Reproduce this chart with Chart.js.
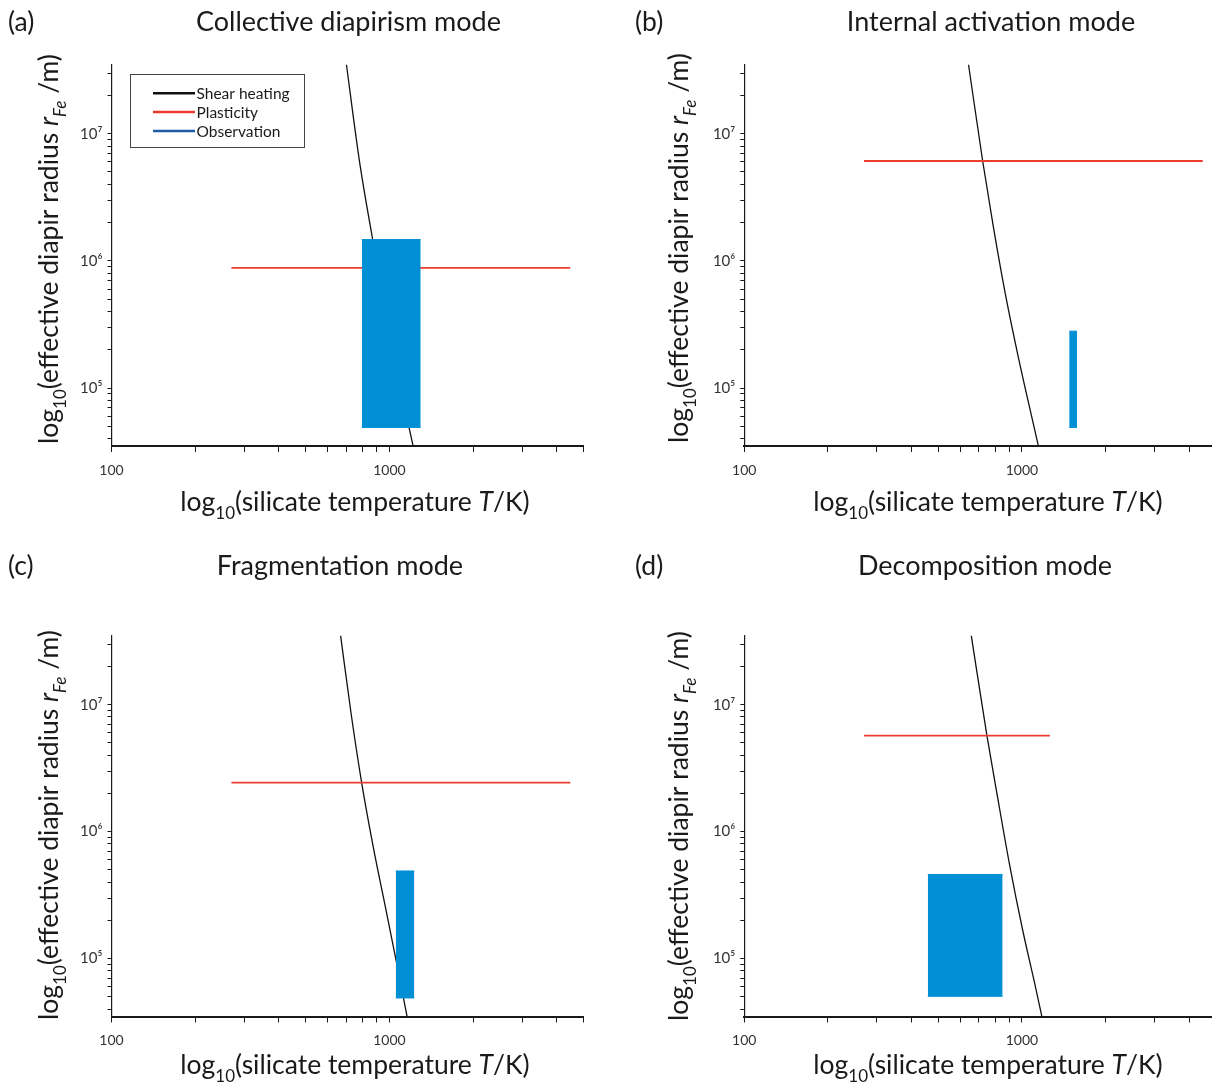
<!DOCTYPE html>
<html>
<head>
<meta charset="utf-8">
<script src="https://cdn.jsdelivr.net/npm/chart.js@4.4.1/dist/chart.umd.min.js"></script>
<style>
html, body { margin: 0; padding: 0; background: #fff; overflow: hidden; }
body { width: 1212px; height: 1087px; position: relative; }
canvas { position: absolute; }
</style>
</head>
<body>
<script>
const panelTags = ['(a)', '(b)', '(c)', '(d)'];
const panelTitles = ['Collective diapirism mode', 'Internal activation mode', 'Fragmentation mode', 'Decomposition mode'];
const xTickLabels = [100, 1000];
const yTickPowers = [5, 6, 7];
const legendLabels = ['Shear heating', 'Plasticity', 'Observation'];

// shear heating curve (T in K, r in m), one list per panel
const shearTemp = [
    [700, 779, 870, 1001, 1175, 1220],
    [642, 722, 789, 871, 976, 1092, 1150],
    [667, 728, 794, 874, 977, 1061, 1160],
    [657, 748, 817, 901, 1006, 1111, 1183]
];
const shearRadius = [
    [3.5e7, 6.17e6, 1.47e6, 2.68e5, 4.93e4, 3.4e4],
    [3.5e7, 6.1e6, 1.85e6, 5.52e5, 1.65e5, 5.57e4, 3.4e4],
    [3.5e7, 8.44e6, 2.43e6, 7.57e5, 2.27e5, 9.2e4, 3.4e4],
    [3.5e7, 5.7e6, 1.87e6, 5.61e5, 1.68e5, 6.41e4, 3.4e4]
];

// plasticity limit
const plastTemp = [[270, 4470], [270, 4480], [270, 4470], [270, 1260]];
const plastRadius = [8.8e5, 6.1e6, 2.43e6, 5.7e6];

// observed range: [Tmin, Tmax], [rmin, rmax]
const obsTemp = [[795, 1295], [1480, 1580], [1053, 1228], [458, 852]];
const obsRadius = [[4.9e4, 1.47e6], [4.9e4, 2.8e5], [4.9e4, 4.9e5], [5.05e4, 4.6e5]];

const FONT = 'Lato, "Open Sans", sans-serif';
const SUP = {'0': '⁰', '1': '¹', '2': '²', '3': '³', '4': '⁴', '5': '⁵', '6': '⁶', '7': '⁷', '8': '⁸', '9': '⁹'};
const BLUE = '#008fd5';
const RED = '#ee3b30';

// page layout of the four panels (page pixels)
const panels = [
    {left: 0, top: 0, w: 606, h: 543, area: [111.5, 64.5, 583.8, 446],
     tagX: 8, titleX: 348.5, titleY: 31, xTitleX: 355, xTitleY: 511, yTitleX: 58, yTitleY: 249},
    {left: 606, top: 0, w: 620, h: 543, area: [744.3, 64.5, 1216.6, 446],
     tagX: 635, titleX: 991, titleY: 31, xTitleX: 988, xTitleY: 511, yTitleX: 688, yTitleY: 248},
    {left: 0, top: 543, w: 606, h: 544, area: [111.5, 635.6, 583.8, 1016.5],
     tagX: 8, titleX: 340, titleY: 575, xTitleX: 355, xTitleY: 1074, yTitleX: 58, yTitleY: 825},
    {left: 606, top: 543, w: 620, h: 544, area: [744.3, 635.6, 1216.6, 1016.5],
     tagX: 635, titleX: 985, titleY: 575, xTitleX: 988, xTitleY: 1074, yTitleX: 688, yTitleY: 826}
];

const xTitleRuns = [{t: 'log'}, {t: '10', sub: true}, {t: '(silicate temperature '}, {t: 'T', it: true}, {t: '/K)'}];
const yTitleRuns = [{t: 'log'}, {t: '10', sub: true}, {t: '(effective diapir radius '}, {t: 'r', it: true}, {t: 'Fe', sub: true, it: true}, {t: ' /m)'}];

const isNice = v => {
    const m = v / Math.pow(10, Math.floor(Math.log10(v) + 1e-9));
    return Math.abs(m - Math.round(m)) < 1e-6;
};

function drawRich(ctx, runs, x, y, size) {
    const fontFor = r => (r.it ? 'italic ' : '') + (r.sub ? Math.round(size * 0.65) : size) + 'px ' + FONT;
    let total = 0;
    const widths = runs.map(r => {
        ctx.font = fontFor(r);
        const w = ctx.measureText(r.t).width;
        total += w;
        return w;
    });
    let cx = x - total / 2;
    runs.forEach((r, k) => {
        ctx.font = fontFor(r);
        ctx.fillText(r.t, cx, y + (r.sub ? size * 0.32 : 0));
        cx += widths[k];
    });
}

function drawLegend(ctx) {
    ctx.strokeStyle = '#444';
    ctx.lineWidth = 1;
    ctx.strokeRect(130.5, 74.5, 174, 73);
    const colors = ['#111', RED, '#1f5aa6'];
    const ys = [93.3, 112, 131];
    ctx.font = '15.5px ' + FONT;
    ctx.textAlign = 'left';
    ctx.textBaseline = 'middle';
    legendLabels.forEach((lab, k) => {
        ctx.strokeStyle = colors[k];
        ctx.lineWidth = 2.5;
        ctx.beginPath();
        ctx.moveTo(153, ys[k]);
        ctx.lineTo(195, ys[k]);
        ctx.stroke();
        ctx.fillStyle = '#1a1a1a';
        ctx.fillText(lab, 196.5, ys[k] + 0.5);
    });
}

const textPlugin = (p, i) => ({
    id: 'panelText' + i,
    afterDraw(chart) {
        const ctx = chart.ctx;
        ctx.save();
        ctx.fillStyle = '#1a1a1a';
        ctx.textBaseline = 'alphabetic';
        ctx.textAlign = 'left';
        ctx.font = '26.5px ' + FONT;
        ctx.fillText(panelTags[i], p.tagX - p.left, p.titleY - p.top);
        ctx.font = '27px ' + FONT;
        ctx.textAlign = 'center';
        ctx.fillText(panelTitles[i], p.titleX - p.left, p.titleY - p.top);
        ctx.textAlign = 'left';
        drawRich(ctx, xTitleRuns, p.xTitleX - p.left, p.xTitleY - p.top, 26.5);
        ctx.translate(p.yTitleX - p.left, p.yTitleY - p.top);
        ctx.rotate(-Math.PI / 2);
        drawRich(ctx, yTitleRuns, 0, 0, 26.5);
        ctx.restore();
        if (i === 0) {
            ctx.save();
            drawLegend(ctx);
            ctx.restore();
        }
    }
});

const axisColor = '#1a1a1a';

panels.forEach((p, i) => {
    const canvas = document.createElement('canvas');
    canvas.width = p.w;
    canvas.height = p.h;
    canvas.style.left = p.left + 'px';
    canvas.style.top = p.top + 'px';
    document.body.appendChild(canvas);

    const aL = p.area[0] - p.left, aT = p.area[1] - p.top;
    const aR = p.area[2] - p.left, aB = p.area[3] - p.top;

    const shear = shearTemp[i].map((t, k) => ({x: t, y: shearRadius[i][k]}));
    const plast = plastTemp[i].map(t => ({x: t, y: plastRadius[i]}));
    const obsTop = obsTemp[i].map(t => ({x: t, y: obsRadius[i][1]}));
    const obsBottom = obsTemp[i].map(t => ({x: t, y: obsRadius[i][0]}));

    new Chart(canvas.getContext('2d'), {
        type: 'line',
        data: {
            datasets: [
                {label: 'Observation', data: obsTop, fill: '+1', backgroundColor: BLUE,
                 borderColor: BLUE, borderWidth: 1, pointRadius: 0},
                {label: 'Observation (low)', data: obsBottom, fill: false,
                 borderColor: BLUE, borderWidth: 1, pointRadius: 0},
                {label: 'Plasticity', data: plast, fill: false,
                 borderColor: RED, borderWidth: 1.8, pointRadius: 0},
                {label: 'Shear heating', data: shear, fill: false, cubicInterpolationMode: 'monotone',
                 borderColor: '#111', borderWidth: 1.3, pointRadius: 0}
            ]
        },
        options: {
            responsive: false,
            animation: false,
            events: [],
            layout: {padding: {left: 0, top: aT, right: p.w - aR, bottom: 0}},
            plugins: {legend: {display: false}, tooltip: {enabled: false}},
            scales: {
                x: {
                    type: 'logarithmic',
                    min: 100,
                    max: 5000,
                    afterFit: s => { s.height = p.h - aB; },
                    border: {display: true, color: axisColor, width: 2},
                    grid: {
                        drawOnChartArea: false, drawTicks: true, tickLength: 6, tickWidth: 1,
                        tickColor: c => (c.tick && isNice(c.tick.value)) ? axisColor : 'rgba(0,0,0,0)'
                    },
                    ticks: {
                        autoSkip: false, maxRotation: 0, padding: 10, color: '#333',
                        font: {family: FONT, size: 14},
                        callback: v => xTickLabels.includes(Math.round(v)) ? String(Math.round(v)) : ''
                    }
                },
                y: {
                    type: 'logarithmic',
                    min: 3.5e4,
                    max: 3.5e7,
                    afterFit: s => { s.width = aL; },
                    border: {display: true, color: axisColor, width: 1.2},
                    grid: {
                        drawOnChartArea: false, drawTicks: true, tickLength: 4, tickWidth: 1,
                        tickColor: c => (c.tick && isNice(c.tick.value)) ? axisColor : 'rgba(0,0,0,0)'
                    },
                    ticks: {
                        autoSkip: false, padding: 5, color: '#333',
                        font: {family: FONT, size: 15},
                        callback: v => {
                            const e = Math.round(Math.log10(v));
                            if (Math.abs(v - Math.pow(10, e)) < 1e-6 * v && yTickPowers.includes(e)) {
                                return '10' + String(e).split('').map(d => SUP[d]).join('');
                            }
                            return '';
                        }
                    }
                }
            }
        },
        plugins: [textPlugin(p, i)]
    });
});
</script>
</body>
</html>
